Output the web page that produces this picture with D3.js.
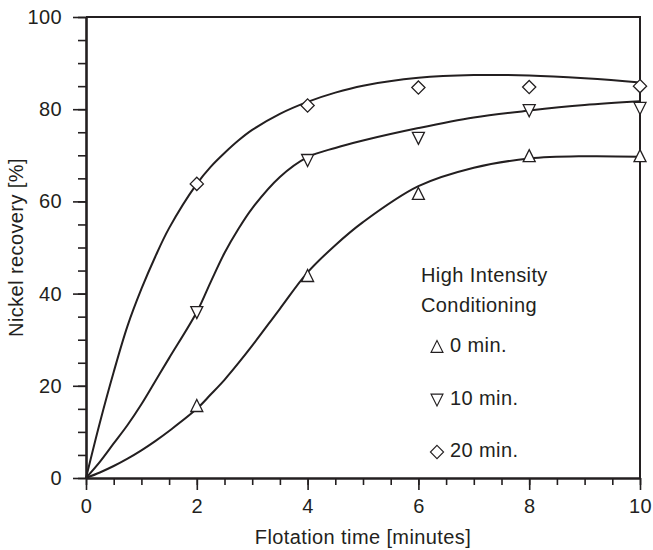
<!DOCTYPE html>
<html lang="en">
<head>
<meta charset="UTF-8">
<title>Nickel recovery</title>
<script src="https://d3js.org/d3.v7.min.js"></script>
<style>
  body { margin: 0; background: #fff; }
  text { font-family: "Liberation Sans", Arial, sans-serif; fill: #231f20; letter-spacing: 0.4px; }
</style>
</head>
<body>
<svg id="main" width="653" height="550"></svg>
<script>
    // measured points
    const times = [2, 4, 6, 8, 10];
    const rec0 = [15.6, 43.8, 61.6, 69.8, 69.8];
    const rec10 = [36, 69, 73.8, 79.8, 80.3];
    const rec20 = [63.8, 80.8, 84.7, 84.8, 85];

    // fitted curves
    const fitT = [0, 0.25, 0.5, 0.75, 1, 1.25, 1.5, 2, 2.25, 2.5, 2.75, 3, 3.5, 4, 4.5, 5, 6, 7, 8, 9, 10];
    const fit0 = [0, 1.2, 2.6, 4.2, 6, 8, 10.2, 15, 18.1, 21.3, 24.9, 28.7, 36.7, 44.6, 50.5, 55.5, 63.3, 67.3, 69.3, 69.8, 69.7];
    const fit10 = [0, 3.5, 7.5, 11.5, 16, 21, 26, 36, 42.5, 48.8, 54, 58.5, 65.3, 69.6, 71.6, 73.2, 75.9, 78.2, 79.7, 80.9, 81.7];
    const fit20 = [0, 12, 23, 33, 41, 48, 54.2, 63.8, 67.5, 70.5, 73.2, 75.5, 79, 81.6, 83.6, 85.1, 86.8, 87.4, 87.3, 86.7, 85.8];

    const xTicks = [0, 2, 4, 6, 8, 10];
    const yTicks = [0, 20, 40, 60, 80, 100];
    const legendLabels = ['0 min.', '10 min.', '20 min.'];

    const ink = '#231f20';
    const svg = d3.select('svg#main');

    let x = d3.scaleLinear().domain([0, 10]).range([86, 640]);
    let y = d3.scaleLinear().domain([0, 100]).range([478, 17]);

    // frame top + right
    svg.append('path')
        .attr('d', `M${x(0)},${y(100)}H${x(10)}V${y(0)}`)
        .attr('fill', 'none').attr('stroke', ink).attr('stroke-width', 2);

    // curves
    let line = d3.line()
        .x(d => x(d[0]))
        .y(d => y(d[1]))
        .curve(d3.curveCatmullRom.alpha(0.5));

    [fit0, fit10, fit20].forEach(fit => {
        svg.append('path')
            .datum(fitT.map((t, i) => [t, fit[i]]))
            .attr('d', line)
            .attr('fill', 'none')
            .attr('stroke', ink)
            .attr('stroke-width', 2);
    });

    // axes: minor first, then major with labels
    let fs = '20px';
    svg.append('g').attr('transform', `translate(0,${y(0)})`)
        .call(d3.axisBottom(x).tickValues(d3.range(0, 10.01, 0.5)).tickSize(7).tickFormat(''))
        .call(g => g.select('.domain').remove());
    let gx = svg.append('g').attr('transform', `translate(0,${y(0)})`)
        .call(d3.axisBottom(x).tickValues(xTicks).tickSize(12).tickPadding(9).tickSizeOuter(0));
    svg.append('g').attr('transform', `translate(${x(0)},0)`)
        .call(d3.axisLeft(y).tickValues(d3.range(0, 100.1, 5)).tickSize(8).tickFormat(''))
        .call(g => g.select('.domain').remove());
    let gy = svg.append('g').attr('transform', `translate(${x(0)},0)`)
        .call(d3.axisLeft(y).tickValues(yTicks).tickSize(13).tickPadding(11).tickSizeOuter(0));

    svg.selectAll('.tick line').attr('stroke', ink).attr('stroke-width', 1.6);
    gx.select('.domain').attr('stroke', ink).attr('stroke-width', 2.6);
    gy.select('.domain').attr('stroke', ink).attr('stroke-width', 2.6);
    svg.selectAll('.tick text').style('font-size', fs).attr('fill', ink)
        .style('font-family', '"Liberation Sans", Arial, sans-serif');

    svg.append('text')
        .attr('x', (x(0) + x(10)) / 2).attr('y', 544)
        .attr('text-anchor', 'middle').style('font-size', fs)
        .text('Flotation time [minutes]');
    svg.append('text')
        .attr('transform', `translate(23,${(y(0) + y(100)) / 2}) rotate(-90)`)
        .attr('text-anchor', 'middle').style('font-size', fs)
        .text('Nickel recovery [%]');

    // marker shapes
    const shapes = [
        s => `M0,${-s * 0.55}L${s * 0.5},${s * 0.45}L${-s * 0.5},${s * 0.45}Z`,
        s => `M0,${s * 0.55}L${s * 0.5},${-s * 0.45}L${-s * 0.5},${-s * 0.45}Z`,
        s => `M0,${-s * 0.55}L${s * 0.55},0L0,${s * 0.55}L${-s * 0.55},0Z`
    ];
    const msize = 12;

    [rec0, rec10, rec20].forEach((rec, k) => {
        svg.append('g').selectAll('path')
            .data(times.map((t, i) => [t, rec[i]]))
            .join('path')
            .attr('transform', d => `translate(${x(d[0])},${y(d[1])})`)
            .attr('d', shapes[k](msize))
            .attr('fill', '#fff')
            .attr('stroke', ink)
            .attr('stroke-width', 1.3);
    });

    // legend
    let lg = svg.append('g');
    lg.append('text').attr('x', 421).attr('y', 282).style('font-size', fs).text('High Intensity');
    lg.append('text').attr('x', 421).attr('y', 312).style('font-size', fs).text('Conditioning');
    legendLabels.forEach((lab, k) => {
        let yy = 347 + k * 52.5;
        lg.append('path')
            .attr('transform', `translate(437,${yy})`)
            .attr('d', shapes[k](msize))
            .attr('fill', '#fff').attr('stroke', ink).attr('stroke-width', 1.1);
        lg.append('text').attr('x', 450).attr('y', yy + 5).style('font-size', fs).text(lab);
    });
</script>
</body>
</html>
